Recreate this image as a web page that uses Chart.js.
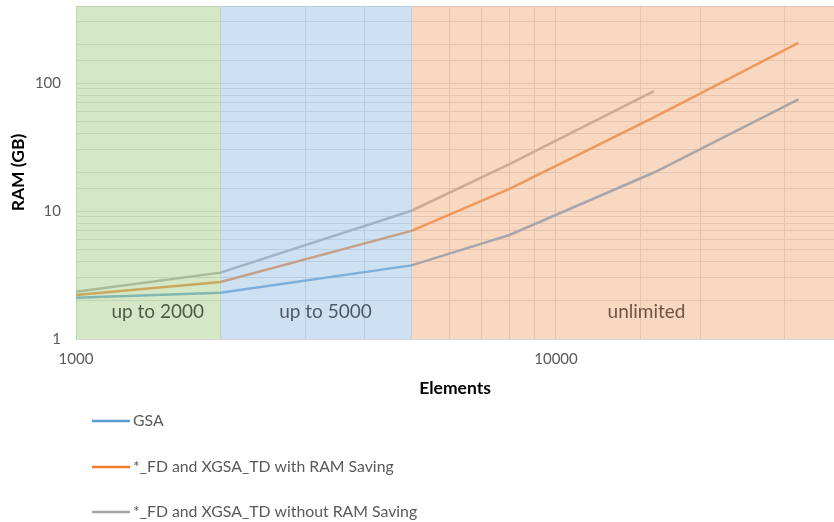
<!DOCTYPE html>
<html>
<head>
<meta charset="utf-8">
<title>RAM usage by element count</title>
<script src="https://cdn.jsdelivr.net/npm/chart.js@4.4.1/dist/chart.umd.min.js"></script>
<style>
  html, body { margin: 0; padding: 0; background: #fff; }
  #wrap { width: 834px; height: 522px; }
</style>
</head>
<body>
<div id="wrap"><canvas id="ramChart" width="834" height="522"></canvas></div>
<script>
// Measured RAM (GB) per number of elements
const elements = [1000, 2000, 5000, 8000, 16000, 32000];
const gsa = [2.1, 2.3, 3.76, 6.5, 20, 74.6];
const withSaving = [2.21, 2.79, 7.0, 14.9, 54, 206];
const withoutSaving = [2.34, 3.3, 10.05, 23.3, 86.6, null];

const seriesNames = ['GSA', '*_FD and XGSA_TD with RAM Saving', '*_FD and XGSA_TD without RAM Saving'];
const seriesColors = ['#5B9BD5', '#ED7D31', '#A5A5A5'];

// only the decades get a label
const xTickLabels = [1000, 10000];
const yTickLabels = [1, 10, 100];

// licence zones along the element axis
const zoneNames = ['up to 2000', 'up to 5000', 'unlimited'];
const zoneStarts = [1000, 2000, 5000];
const zoneEnds = [2000, 5000, 37950];
const zoneLabelX = [1480, 3310, 15440];
const zoneLabelY = 1.63;

const zoneFill = ['rgba(169,209,142,0.5)', 'rgba(157,195,230,0.5)', 'rgba(244,177,131,0.5)'];
const zoneText = ['#4e5b45', '#4e5a68', '#6e5444'];

const FONT = 'Lato, "Open Sans", sans-serif';
Chart.defaults.font.family = FONT;

function toPoints(values) {
  return elements.map((e, i) => ({ x: e, y: values[i] }));
}

// translucent zone boxes sit on top of the lines, like the original sheet
const zonePlugin = {
  id: 'zones',
  afterDatasetsDraw(chart) {
    const { ctx, chartArea, scales: { x, y } } = chart;
    ctx.save();
    zoneStarts.forEach((start, i) => {
      const left = x.getPixelForValue(start);
      const right = x.getPixelForValue(zoneEnds[i]);
      ctx.fillStyle = zoneFill[i];
      ctx.fillRect(left, chartArea.top, right - left, chartArea.bottom - chartArea.top);
    });
    ctx.font = '19px ' + FONT;
    ctx.textAlign = 'center';
    ctx.textBaseline = 'middle';
    zoneNames.forEach((name, i) => {
      ctx.fillStyle = zoneText[i];
      ctx.fillText(name, x.getPixelForValue(zoneLabelX[i]), y.getPixelForValue(zoneLabelY));
    });
    ctx.restore();
  }
};

// stacked legend under the x axis title
const stackedLegend = {
  id: 'stackedLegend',
  afterDraw(chart) {
    const { ctx } = chart;
    const rowY = [421, 467, 512];
    ctx.save();
    ctx.font = '15.8px ' + FONT;
    ctx.textBaseline = 'middle';
    ctx.textAlign = 'left';
    chart.data.datasets.forEach((ds, i) => {
      ctx.strokeStyle = ds.borderColor;
      ctx.lineWidth = 2.5;
      ctx.beginPath();
      ctx.moveTo(92, rowY[i]);
      ctx.lineTo(130, rowY[i]);
      ctx.stroke();
      ctx.fillStyle = '#595959';
      ctx.fillText(ds.label, 133, rowY[i]);
    });
    ctx.restore();
  }
};

const ctx = document.getElementById('ramChart').getContext('2d');

const chart = new Chart(ctx, {
  type: 'line',
  data: {
    datasets: [gsa, withSaving, withoutSaving].map((values, i) => ({
      label: seriesNames[i],
      data: toPoints(values),
      borderColor: seriesColors[i],
      backgroundColor: seriesColors[i],
      borderWidth: 2.5,
      pointRadius: 0,
      tension: 0,
      fill: false
    }))
  },
  options: {
    responsive: false,
    animation: false,
    devicePixelRatio: 1,
    layout: { padding: { top: 6, right: 0, bottom: 123, left: 0 } },
    plugins: {
      legend: { display: false },
      tooltip: { enabled: false }
    },
    scales: {
      x: {
        type: 'logarithmic',
        min: 1000,
        max: 37950,
        border: { display: false },
        grid: { color: '#d9d9d9', lineWidth: 1, drawTicks: false },
        ticks: {
          autoSkip: false,
          maxRotation: 0,
          padding: 11,
          color: '#595959',
          font: { size: 15 },
          callback: (v) => xTickLabels.includes(v) ? String(v) : ''
        },
        title: {
          display: true,
          text: 'Elements',
          color: '#000',
          font: { size: 17.5, weight: 'bold' },
          padding: { top: 0, bottom: 0 }
        },
        afterFit: (scale) => {
          scale.height = 60;
          scale.paddingRight = 0;
        }
      },
      y: {
        type: 'logarithmic',
        min: 1,
        max: 400,
        border: { display: false },
        grid: { color: '#d9d9d9', lineWidth: 1, drawTicks: false },
        ticks: {
          autoSkip: false,
          padding: 15,
          color: '#595959',
          font: { size: 15 },
          callback: (v) => yTickLabels.includes(v) ? String(v) : ''
        },
        title: {
          display: true,
          text: 'RAM (GB)',
          color: '#000',
          font: { size: 17.5, weight: 'bold' },
          padding: { top: 8, bottom: 0 }
        },
        afterFit: (scale) => {
          scale.width = 76;
          scale.paddingTop = 0;
          scale.paddingBottom = 0;
        }
      }
    }
  },
  plugins: [zonePlugin, stackedLegend]
});
</script>
</body>
</html>
